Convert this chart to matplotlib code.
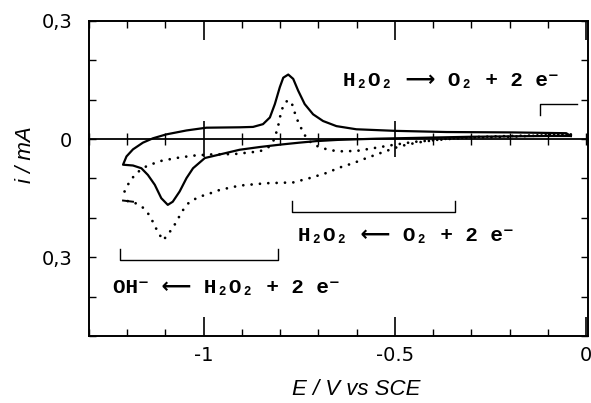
import numpy as np
import matplotlib
matplotlib.use("Agg")
import matplotlib.pyplot as plt
from matplotlib.ticker import FixedLocator, MultipleLocator

plt.rcParams["axes.unicode_minus"] = False

# Cyclic voltammograms: potential E (V vs SCE) and current i (mA)
# solid trace, cathodic sweep (towards negative potentials)
e_solid_cath = [-0.04, -0.10, -0.20, -0.30, -0.40, -0.55, -0.65, -0.705, -0.75, -0.80,
                -0.853, -0.906, -0.958, -0.997, -1.028, -1.045, -1.063, -1.081, -1.094,
                -1.111, -1.128, -1.146, -1.163, -1.185, -1.211]
i_solid_cath = [0.008, 0.008, 0.007, 0.006, 0.004, 0.001, -0.002, -0.005, -0.009, -0.014,
                -0.020, -0.027, -0.039, -0.048, -0.074, -0.099, -0.133, -0.159, -0.167,
                -0.150, -0.116, -0.091, -0.074, -0.067, -0.065]
# solid trace, anodic sweep (back towards positive potentials)
e_solid_anod = [-1.211, -1.202, -1.185, -1.159, -1.133, -1.098, -1.045, -0.993, -0.906,
                -0.871, -0.845, -0.827, -0.814, -0.801, -0.792, -0.779, -0.766, -0.753,
                -0.736, -0.714, -0.688, -0.653, -0.601, -0.50, -0.365, -0.191, -0.052, -0.04]
i_solid_anod = [-0.065, -0.044, -0.026, -0.009, 0.002, 0.012, 0.022, 0.029, 0.030,
                0.031, 0.038, 0.055, 0.089, 0.132, 0.156, 0.164, 0.153, 0.123,
                0.089, 0.063, 0.046, 0.033, 0.025, 0.021, 0.018, 0.017, 0.015, 0.008]

# dotted trace, cathodic sweep
e_dot_cath = [-0.04, -0.10, -0.20, -0.30, -0.356, -0.40, -0.443, -0.487, -0.531, -0.574,
              -0.609, -0.644, -0.679, -0.723, -0.766, -0.836, -0.906, -0.958, -0.984,
              -1.010, -1.037, -1.058, -1.071, -1.089, -1.106, -1.120, -1.133, -1.146,
              -1.159, -1.185, -1.211]
i_dot_cath = [0.012, 0.010, 0.008, 0.005, 0.002, -0.003, -0.009, -0.018, -0.033, -0.048,
              -0.061, -0.072, -0.086, -0.099, -0.110, -0.112, -0.118, -0.129, -0.138,
              -0.146, -0.159, -0.185, -0.210, -0.236, -0.257, -0.236, -0.210, -0.188,
              -0.174, -0.159, -0.156]
# dotted trace, anodic sweep
e_dot_anod = [-1.207, -1.194, -1.176, -1.150, -1.115, -1.072, -1.028, -0.984, -0.92,
              -0.853, -0.830, -0.815, -0.805, -0.797, -0.788, -0.779, -0.770, -0.758,
              -0.749, -0.740, -0.730, -0.715, -0.696, -0.670, -0.644, -0.600, -0.550,
              -0.500, -0.450, -0.400, -0.350, -0.300, -0.200, -0.100, -0.04]
i_dot_anod = [-0.133, -0.108, -0.086, -0.069, -0.056, -0.048, -0.042, -0.039, -0.038,
              -0.031, -0.020, 0.000, 0.035, 0.072, 0.092, 0.099, 0.092, 0.055,
              0.035, 0.018, 0.000, -0.012, -0.021, -0.028, -0.031, -0.030, -0.022,
              -0.014, -0.007, -0.003, 0.001, 0.004, 0.006, 0.010, 0.012]

# potential ranges marked with brackets (V)
ox_range = [-0.120, -0.024]
o2_red_range = [-0.770, -0.343]
h2o2_red_range = [-1.220, -0.806]

x_ticks = [-1.0, -0.5, 0.0]
x_tick_labels = ["-1", "-0.5", "0"]
y_ticks = [-0.3, 0.0, 0.3]
y_tick_labels = ["0,3", "0", "0,3"]

fig = plt.figure(figsize=(5.91, 4.03), dpi=100)
ax = fig.add_axes([0.1506, 0.1663, 0.8444, 0.7816])
ax.set_xlim(-1.3, 0.005)
ax.set_ylim(-0.5, 0.3)

lw = 1.6
ax.plot(e_solid_cath + e_solid_anod, i_solid_cath + i_solid_anod,
        color="black", lw=lw, solid_joinstyle="round")
ax.plot(e_dot_cath, i_dot_cath, color="black", lw=2.0,
        linestyle=(0, (0.01, 3.0)), dash_capstyle="round")
ax.plot(e_dot_anod, i_dot_anod, color="black", lw=2.0,
        linestyle=(0, (0.01, 3.0)), dash_capstyle="round")
# the turning point of the dotted sweep is traced as a short solid stroke
tip = [k for k, e in enumerate(e_dot_cath) if e <= -1.18]
ax.plot([e_dot_cath[k] for k in tip], [i_dot_cath[k] for k in tip],
        color="black", lw=1.4)

# brackets
bl = 1.0
ax.plot([ox_range[0], ox_range[0], ox_range[1]], [0.060, 0.089, 0.089],
        color="black", lw=bl)
ax.plot([o2_red_range[0], o2_red_range[0], o2_red_range[1], o2_red_range[1]],
        [-0.156, -0.186, -0.186, -0.156], color="black", lw=bl)
ax.plot([h2o2_red_range[0], h2o2_red_range[0], h2o2_red_range[1], h2o2_red_range[1]],
        [-0.279, -0.307, -0.307, -0.279], color="black", lw=bl)

eq_font = dict(family=["Liberation Mono", "DejaVu Sans"], weight="bold",
               fontsize=15, ha="left", va="center", color="black")
ax.text(-0.636, 0.149, "H₂O₂ ⟶ O₂ + 2 e⁻", **eq_font)
ax.text(-0.754, -0.246, "H₂O₂ ⟵ O₂ + 2 e⁻", **eq_font)
ax.text(-1.238, -0.378, "OH⁻ ⟵ H₂O₂ + 2 e⁻", **eq_font)

# frame and ticks
for s in ax.spines.values():
    s.set_linewidth(1.4)
ax.xaxis.set_major_locator(FixedLocator(x_ticks))
ax.set_xticklabels(x_tick_labels)
ax.xaxis.set_minor_locator(MultipleLocator(0.1))
ax.yaxis.set_major_locator(FixedLocator(y_ticks))
ax.set_yticklabels(y_tick_labels)
ax.yaxis.set_minor_locator(MultipleLocator(0.1))
ax.tick_params(axis="x", which="major", direction="in", length=13.5, width=1.2,
               top=True, bottom=True, labelsize=14, pad=7)
ax.tick_params(axis="x", which="minor", direction="in", length=5, width=1.0,
               top=True, bottom=True)
ax.tick_params(axis="y", which="both", direction="in", length=5, width=1.0,
               left=True, right=True, labelsize=14, pad=12)

# zero-current axis with its own ticks: a flat axes sitting on i = 0
ylo, yhi = ax.get_ylim()
zero_pos = (0 - ylo) / (yhi - ylo)
zax = ax.inset_axes([0, zero_pos, 1, 0])
zax.set_xlim(ax.get_xlim())
zax.patch.set_visible(False)
for name in ("top", "left", "right"):
    zax.spines[name].set_visible(False)
zax.spines["bottom"].set_linewidth(1.3)
zax.set_yticks([])
zax.xaxis.set_major_locator(FixedLocator([-1.0, -0.5]))
zax.xaxis.set_minor_locator(MultipleLocator(0.1))
zax.tick_params(axis="x", which="both", bottom=True, top=False,
                labelbottom=False, labeltop=False)
zax.tick_params(axis="x", which="major", direction="inout", length=26, width=1.2)
zax.tick_params(axis="x", which="minor", direction="inout", length=8.5, width=1.0)

ax.set_xlabel("E / V vs SCE", family="Liberation Sans", style="italic", fontsize=16,
              va="center")
ax.xaxis.set_label_coords(0.535, -0.171)
ax.set_ylabel("i / mA", family="Liberation Sans", style="italic", fontsize=16,
              va="center")
ax.yaxis.set_label_coords(-0.128, 0.575)

fig.savefig("out.png", dpi=100)
